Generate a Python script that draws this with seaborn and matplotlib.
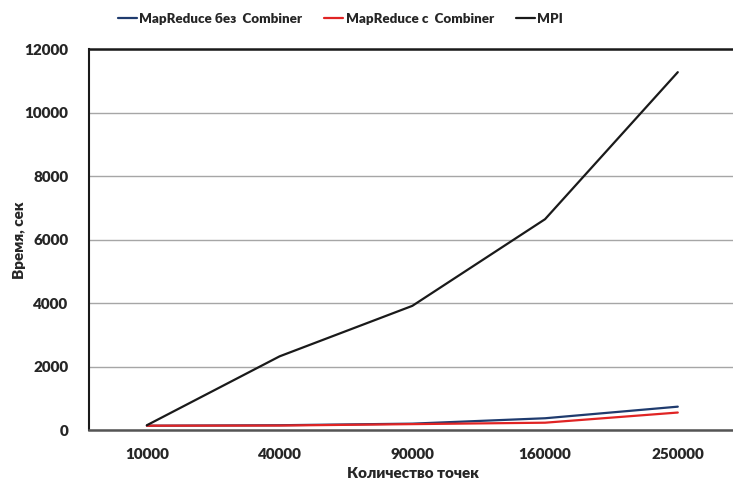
import matplotlib
matplotlib.use("Agg")
import matplotlib.pyplot as plt
import seaborn as sns
import pandas as pd

# Number of points (categories on the x axis)
points = ["10000", "40000", "90000", "160000", "250000"]

# Execution time, seconds
mr_no_combiner = [135, 150, 200, 370, 735]
mr_combiner = [135, 140, 185, 230, 550]
mpi = [150, 2320, 3910, 6640, 11270]

series_names = ["MapReduce без  Combiner", "MapReduce с  Combiner", "MPI"]
series_values = [mr_no_combiner, mr_combiner, mpi]
colors = ["#1F3B6E", "#E02424", "#1A1A1A"]

rows = []
for name, vals in zip(series_names, series_values):
    for p, v in zip(points, vals):
        rows.append({"points": p, "time": v, "series": name})
df = pd.DataFrame(rows)

sns.set_style("white")
plt.rcParams["font.family"] = ["Lato", "DejaVu Sans"]
plt.rcParams["font.weight"] = "heavy"

FS = 11

fig = plt.figure(figsize=(7.33, 4.8), dpi=100)
ax = fig.add_axes([89 / 733, 1 - 430 / 480, 1 - 89 / 733, (430 - 49) / 480])

sns.lineplot(data=df, x="points", y="time", hue="series",
             palette=dict(zip(series_names, colors)), hue_order=series_names,
             linewidth=1.6, sort=False, ax=ax, legend=False)

ax.set_ylim(0, 12000)
ax.set_xlim(-0.436, 4.416)
ax.set_yticks(range(0, 12001, 2000))
ax.yaxis.grid(True, color="#A6A6A6", linewidth=1.0)
ax.set_axisbelow(True)

ax.spines["right"].set_visible(False)
ax.spines["left"].set_color("#1A1A1A")
ax.spines["left"].set_linewidth(1.5)
ax.spines["top"].set_color("#1A1A1A")
ax.spines["top"].set_linewidth(1.8)
ax.spines["bottom"].set_color("#555555")
ax.spines["bottom"].set_linewidth(1.8)

ax.tick_params(axis="both", length=0, labelsize=FS)
ax.tick_params(axis="y", pad=15)
ax.tick_params(axis="x", pad=13)
for lbl in ax.get_xticklabels() + ax.get_yticklabels():
    lbl.set_fontweight("heavy")

ax.set_xlabel("")
ax.set_ylabel("")
fig.text(413 / 733, 1 - 474 / 480, "Количество точек", ha="center", va="center",
         fontsize=FS, fontweight="heavy")
fig.text(20 / 733, 1 - 240 / 480, "Время, сек", ha="center", va="center",
         rotation=90, fontsize=FS, fontweight="heavy")

handles = [plt.Line2D([0], [0], color=c, linewidth=1.6) for c in colors]
fig.legend(handles, series_names, loc="center", bbox_to_anchor=(0.4645, 1 - 19 / 480),
           ncol=3, frameon=False, handlelength=1.4, handletextpad=0.2,
           columnspacing=1.65, prop={"weight": "heavy", "size": 9.6})

fig.savefig("out.png", dpi=100)
